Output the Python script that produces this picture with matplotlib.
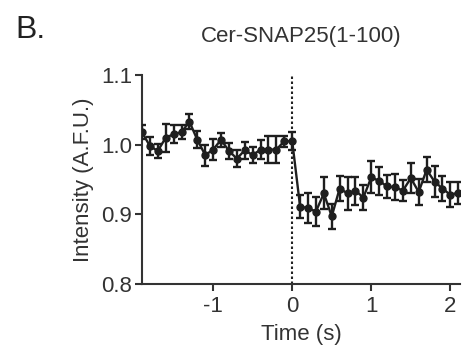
import numpy as np
import matplotlib.pyplot as plt

plt.rcParams['font.family'] = ['Liberation Sans', 'DejaVu Sans']

# time points (s), 0.1 s frames
time = np.round(np.arange(-1.9, 2.15, 0.1), 2)

intensity = [1.018, 0.998, 0.991, 1.010, 1.015, 1.018, 1.033, 1.007, 0.985, 0.993,
             1.007, 0.991, 0.980, 0.992, 0.985, 0.993, 0.993, 0.993, 1.005, 1.005,
             0.911, 0.909, 0.904, 0.930, 0.897, 0.937, 0.930, 0.934, 0.924, 0.953,
             0.948, 0.940, 0.939, 0.934, 0.952, 0.932, 0.964, 0.947, 0.937, 0.928,
             0.931]

sem = [0.010, 0.013, 0.010, 0.020, 0.013, 0.010, 0.011, 0.012, 0.015, 0.015,
       0.010, 0.011, 0.012, 0.012, 0.012, 0.014, 0.019, 0.019, 0.008, 0.013,
       0.017, 0.021, 0.021, 0.023, 0.018, 0.018, 0.024, 0.020, 0.018, 0.023,
       0.020, 0.017, 0.019, 0.015, 0.021, 0.019, 0.018, 0.022, 0.018, 0.018,
       0.016]

xticks = [-1, 0, 1, 2]
yticks = [0.8, 0.9, 1.0, 1.1]

fig = plt.figure(figsize=(4.64, 3.54), dpi=100)
ax = fig.add_axes([0.306, 0.198, 0.685, 0.590])

ax.axvline(0, color='#222222', linestyle=(0, (1.2, 1.2)), linewidth=1.5, zorder=1)
ax.errorbar(time, intensity, yerr=sem, color='#1e1e1e', marker='o', markersize=5,
            linewidth=1.7, elinewidth=1.7, capsize=3, capthick=1.7, zorder=3)

ax.set_xlim(-1.9, 2.12)
ax.set_ylim(0.8, 1.1)
ax.set_xticks(xticks)
ax.set_xticklabels(['-1', '0', '1', '2'])
ax.set_yticks(yticks)
ax.set_yticklabels(['0.8', '0.9', '1.0', '1.1'])

for s in ['top', 'right']:
    ax.spines[s].set_visible(False)
for s in ['left', 'bottom']:
    ax.spines[s].set_linewidth(1.5)
    ax.spines[s].set_color('#333333')

ax.tick_params(axis='both', direction='out', length=5, width=1.5, color='#333333',
               labelsize=16, labelcolor='#333333', pad=2)
ax.tick_params(axis='x', pad=4)

ax.set_xlabel('Time (s)', fontsize=16, color='#333333', labelpad=5)
ax.set_ylabel('Intensity (A.F.U.)', fontsize=16, color='#333333', labelpad=5)

fig.text(301 / 464, 1 - 42 / 354, 'Cer-SNAP25(1-100)', fontsize=16, color='#333333',
         ha='center', va='baseline')
fig.text(15 / 464, 1 - 38 / 354, 'B.', fontsize=23, color='#222222',
         ha='left', va='baseline')

fig.savefig('out.png', dpi=100)
